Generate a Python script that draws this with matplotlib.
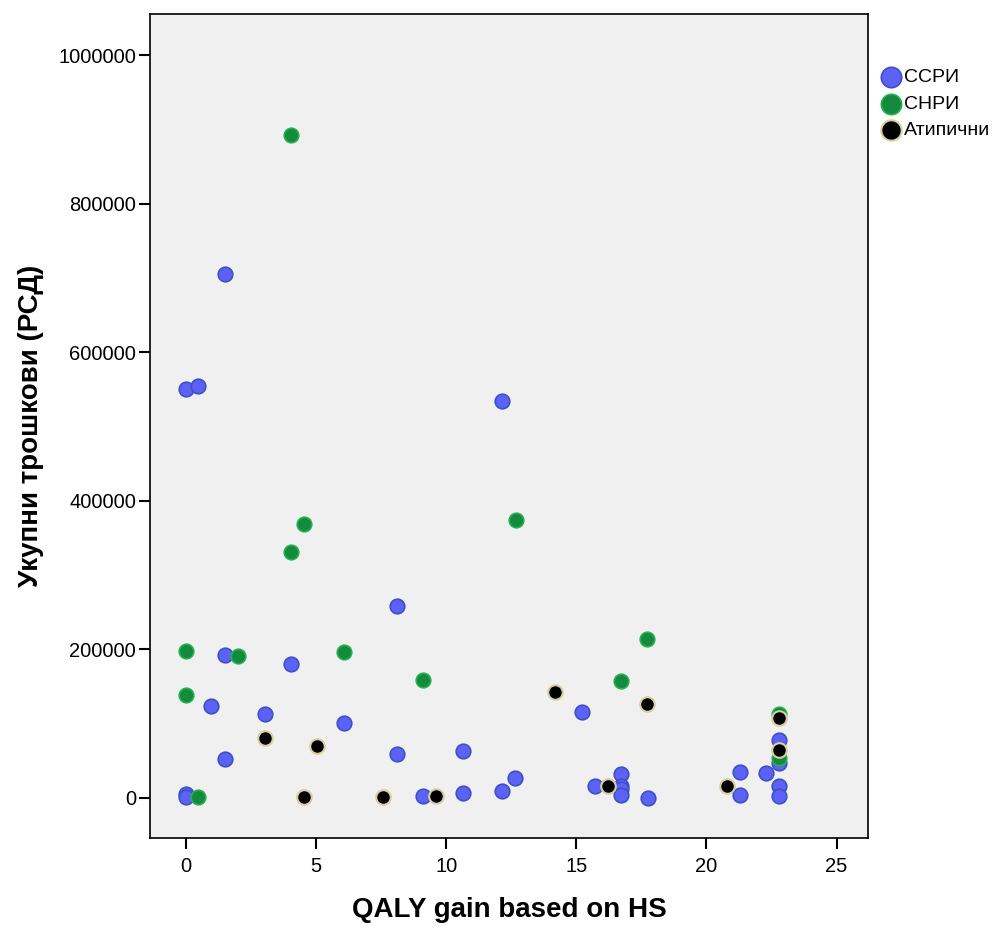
import matplotlib
matplotlib.use("Agg")
import matplotlib.pyplot as plt
from matplotlib.ticker import FuncFormatter

plt.rcParams["font.family"] = ["Liberation Sans", "DejaVu Sans"]

# ССРИ
ssri_x = [0, 0.46, 1.5, 12.15, 8.12, 1.5, 4.04, 0.96, 3.04, 6.08, 1.5, 8.12,
          10.65, 15.23, 0, 0, 9.12, 10.65, 12.15, 12.65, 15.73, 16.73, 16.73,
          16.73, 16.73, 17.77, 21.3, 21.3, 22.3, 22.8, 22.8, 22.8, 22.8]
ssri_y = [551000, 555000, 705000, 534000, 259000, 193000, 181000, 124000,
          113000, 101000, 53000, 59000, 63000, 116000, 5400, 1000, 2700, 6700,
          9400, 27000, 16000, 32000, 16000, 12000, 4000, 0, 35000, 4000,
          34000, 78000, 47000, 16000, 2700]

# СНРИ
snri_x = [4.04, 4.54, 4.04, 12.69, 17.73, 0, 2.0, 6.08, 9.12, 16.73, 0, 0.46,
          22.8, 22.8]
snri_y = [893000, 369000, 331000, 374000, 214000, 198000, 191000, 197000,
          159000, 158000, 139000, 1300, 113000, 54000]

# Атипични
atyp_x = [14.19, 17.73, 3.04, 5.04, 4.54, 7.58, 9.62, 16.23, 20.8, 22.8, 22.8]
atyp_y = [143000, 127000, 81000, 70000, 1300, 1300, 2700, 16000, 16000,
          108000, 65000]

fig = plt.figure(figsize=(9.94, 9.26), dpi=100)
ax = fig.add_axes([0.151, 0.095, 0.722, 0.890])
ax.set_facecolor("#f0f0f0")

ax.scatter(ssri_x, ssri_y, s=110, color="#5b62f5", edgecolors="#3d50c4",
           linewidths=1.2, label="ССРИ", zorder=3)
ax.scatter(snri_x, snri_y, s=110, color="#138a3e", edgecolors="#25b34c",
           linewidths=1.2, label="СНРИ", zorder=3)
ax.scatter(atyp_x, atyp_y, s=110, color="black", edgecolors="#d8cf9e",
           linewidths=1.5, label="Атипични", zorder=4)

ax.set_xlim(-1.38, 26.2)
ax.set_ylim(-54000, 1056000)
ax.set_xticks([0, 5, 10, 15, 20, 25])
ax.set_yticks([0, 200000, 400000, 600000, 800000, 1000000])
ax.yaxis.set_major_formatter(FuncFormatter(lambda v, p: f"{int(v)}"))
ax.tick_params(direction="out", length=8, width=1.5, labelsize=14.5,
               colors="black", pad=2)
ax.tick_params(axis="x", pad=6)
for sp in ax.spines.values():
    sp.set_linewidth(1.2)

ax.set_xlabel("QALY gain based on HS", fontsize=20, fontweight="bold",
              labelpad=15)
ax.set_ylabel("Укупни трошкови (РСД)", fontsize=20, fontweight="bold",
              labelpad=10)

ax.legend(loc="upper left", bbox_to_anchor=(1.0, 0.95), frameon=False,
          fontsize=14, handletextpad=0.15, borderaxespad=0.3,
          labelspacing=0.45, markerscale=1.4, handlelength=1.0)

fig.savefig("out.png", dpi=100)
